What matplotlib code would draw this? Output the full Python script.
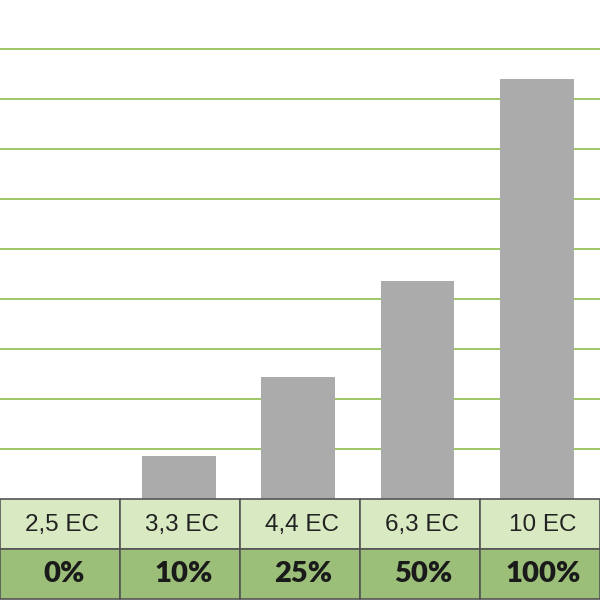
import matplotlib
matplotlib.use("Agg")
import matplotlib.pyplot as plt
from matplotlib.patches import Rectangle

categories = ["2,5 EC", "3,3 EC", "4,4 EC", "6,3 EC", "10 EC"]
percent_labels = ["0%", "10%", "25%", "50%", "100%"]
values = [0.0, 0.86, 2.44, 4.36, 8.4]

fig = plt.figure(figsize=(6, 6), dpi=100)
ax = fig.add_axes([0, 101 / 600, 1, 499 / 600])
x = list(range(len(categories)))
ax.bar(x, values, width=0.62, color="#ababab", zorder=2)
ax.set_xlim(-0.5, len(categories) - 0.47)
ax.set_ylim(0, 9.98)
ax.set_yticks([i for i in range(1, 10)])
ax.grid(axis="y", color="#84b83a", linewidth=1.1, zorder=0)
ax.tick_params(left=False, bottom=False, labelleft=False, labelbottom=False)
for s in ax.spines.values():
    s.set_visible(False)

tab = fig.add_axes([0, 1 / 600, 1, 100 / 600])
tab.set_xlim(-0.5, len(categories) - 0.5)
tab.set_ylim(0, 2)
tab.axis("off")
for i, (c, p) in enumerate(zip(categories, percent_labels)):
    tab.add_patch(Rectangle((i - 0.5, 1), 1, 1, facecolor="#d9eac3",
                            edgecolor="#555555", linewidth=1.2, clip_on=False))
    tab.add_patch(Rectangle((i - 0.5, 0), 1, 1, facecolor="#9bbf78",
                            edgecolor="#555555", linewidth=1.2, clip_on=False))
    tab.text(i + 0.02, 1.48, c, ha="center", va="center", fontsize=17.5,
             family="Liberation Sans", color="#222222")
    tab.text(i + 0.03, 0.5, p, ha="center", va="center", fontsize=21,
             family="Lato", fontweight="heavy", color="#1a1a1a")

fig.savefig("out.png", dpi=100)
